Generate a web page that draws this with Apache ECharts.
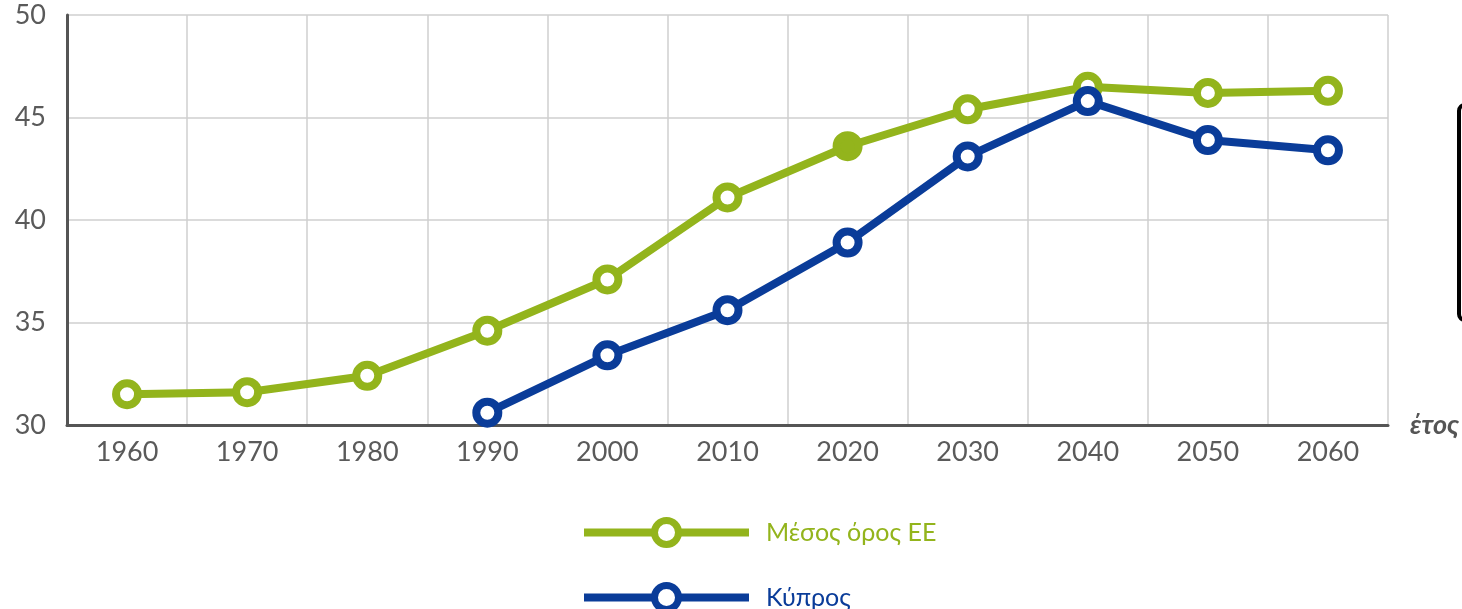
<!DOCTYPE html>
<html>
<head>
<meta charset="utf-8">
<script src="https://cdn.jsdelivr.net/npm/echarts@6/dist/echarts.min.js"></script>
<style>
  html, body { margin: 0; padding: 0; background: #fff; }
  #chart { width: 1462px; height: 609px; }
</style>
</head>
<body>
<div id="chart"></div>
<script>
// Years on the horizontal axis
const years = ['1960', '1970', '1980', '1990', '2000', '2010', '2020', '2030', '2040', '2050', '2060'];
// Median age, EU average
const euAverage = [31.5, 31.6, 32.4, 34.6, 37.1, 41.1, 43.6, 45.4, 46.5, 46.2, 46.3];
// Median age, Cyprus (no value before 1990)
const cyprus = [null, null, null, 30.6, 33.4, 35.6, 38.9, 43.1, 45.8, 43.9, 43.4];
// Series names
const seriesNames = ['Μέσος όρος ΕΕ', 'Κύπρος'];
const axisName = 'έτος';

const GREEN = '#93b41c';
const BLUE = '#0a3c99';
const FONT = 'Lato, "Noto Sans", sans-serif';

// The 2020 EU point is drawn as a filled marker
const euData = euAverage.map((v, i) =>
  years[i] === '2020' ? { value: v, itemStyle: { color: GREEN } } : v
);

const chart = echarts.init(document.getElementById('chart'));
chart.setOption({
  animation: false,
  backgroundColor: '#fff',
  grid: { left: 67, right: 74, top: 15, bottom: 184, containLabel: false },
  xAxis: {
    type: 'category',
    data: years,
    boundaryGap: true,
    name: axisName,
    nameLocation: 'end',
    nameGap: 22,
    nameTextStyle: {
      fontFamily: FONT, fontSize: 27, fontStyle: 'italic', fontWeight: 'bold',
      color: '#555', verticalAlign: 'middle', padding: [0, 0, 34, 0]
    },
    axisLine: { show: true, lineStyle: { color: '#555', width: 3 } },
    axisTick: { show: false },
    axisLabel: { fontFamily: FONT, fontSize: 27, color: '#5a5a5a', margin: 14 },
    splitLine: { show: true, lineStyle: { color: '#cfcfcf', width: 1.5 } }
  },
  yAxis: {
    type: 'value',
    min: 30, max: 50, interval: 5,
    axisLine: { show: true, lineStyle: { color: '#555', width: 3 } },
    axisTick: { show: false },
    axisLabel: { fontFamily: FONT, fontSize: 27, color: '#5a5a5a', margin: 21 },
    splitLine: { show: true, lineStyle: { color: '#cfcfcf', width: 1.5 } }
  },
  legend: {
    orient: 'vertical',
    left: 575,
    top: 512,
    height: 110,
    itemWidth: 165,
    itemHeight: 30,
    itemGap: 34,
    textStyle: { fontFamily: FONT, fontSize: 25, padding: [0, 0, 0, 12] },
    lineStyle: { width: 8 },
    itemStyle: { borderWidth: 7 },
    data: [
      { name: seriesNames[0], textStyle: { color: GREEN } },
      { name: seriesNames[1], textStyle: { color: BLUE } }
    ]
  },
  series: [
    {
      name: seriesNames[0],
      type: 'line',
      data: euData,
      color: GREEN,
      symbol: 'circle',
      symbolSize: 22,
      lineStyle: { color: GREEN, width: 8 },
      itemStyle: { color: '#fff', borderColor: GREEN, borderWidth: 8 },
      z: 2
    },
    {
      name: seriesNames[1],
      type: 'line',
      data: cyprus,
      color: BLUE,
      symbol: 'circle',
      symbolSize: 22,
      lineStyle: { color: BLUE, width: 8 },
      itemStyle: { color: '#fff', borderColor: BLUE, borderWidth: 8 },
      z: 3
    }
  ],
  graphic: [
    {
      type: 'rect',
      left: 1457, top: 103,
      shape: { width: 30, height: 215, r: 6 },
      style: { fill: '#fff', stroke: '#000', lineWidth: 4 }
    }
  ]
});
</script>
</body>
</html>
